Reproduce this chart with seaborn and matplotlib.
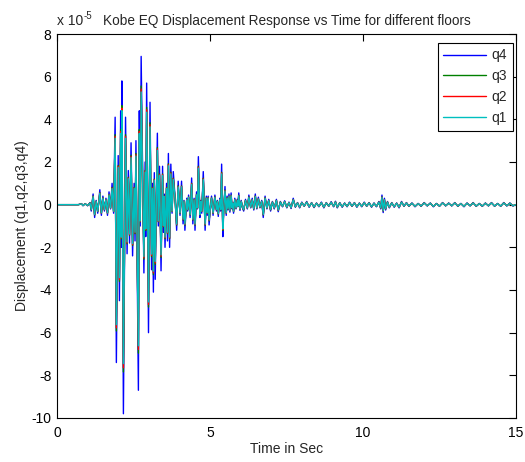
import numpy as np
import pandas as pd
import matplotlib
matplotlib.use("Agg")
import matplotlib.pyplot as plt
import seaborn as sns

# Roof (q4) displacement response, in units of 1e-5 m: turning points of the record
time_s = [
    0.00, 0.70, 0.80, 0.85, 0.92, 1.00, 1.08, 1.12, 1.18, 1.23, 1.28, 1.33, 1.40, 1.45,
    1.50, 1.55, 1.60, 1.65, 1.70, 1.75, 1.80, 1.85, 1.90, 1.94, 2.00, 2.04, 2.08, 2.10,
    2.12, 2.17, 2.24, 2.29, 2.33, 2.37, 2.42, 2.47, 2.52, 2.55, 2.58, 2.66, 2.69, 2.72,
    2.75, 2.84, 2.88, 2.90, 2.93, 2.99, 3.04, 3.09, 3.12, 3.15, 3.18, 3.21, 3.28, 3.31,
    3.35, 3.40, 3.45, 3.48, 3.50, 3.53, 3.58, 3.61, 3.64, 3.68, 3.72, 3.76, 3.80, 3.86,
    3.91, 3.96, 4.02, 4.07, 4.12, 4.15, 4.18, 4.24, 4.27, 4.30, 4.35, 4.40, 4.44, 4.48,
    4.51, 4.56, 4.59, 4.62, 4.67, 4.70, 4.73, 4.78, 4.84, 4.88, 4.91, 4.94, 4.97, 5.01,
    5.05, 5.10, 5.16, 5.21, 5.24, 5.27, 5.32, 5.35, 5.38, 5.42, 5.45, 5.49, 5.53, 5.56,
    5.59, 5.62, 5.65, 5.69, 5.72, 5.74, 5.77, 5.81, 5.85, 5.89, 5.91, 5.94, 5.98, 6.02,
    6.06, 6.10, 6.16, 6.22, 6.27, 6.33, 6.38, 6.43, 6.48, 6.53, 6.58, 6.63, 6.69, 6.74,
    6.80, 6.86, 6.92, 6.98, 7.04, 7.10, 7.17, 7.23, 7.30, 7.37, 7.44, 7.51, 7.58, 7.65,
    7.72, 7.79, 7.86, 7.93, 8.00, 8.08, 8.16, 8.24, 8.32, 8.40, 8.48, 8.56, 8.64, 8.72,
    8.80, 8.88, 8.96, 9.04, 9.10, 9.16, 9.24, 9.32, 9.40, 9.48, 9.56, 9.64, 9.72, 9.80,
    9.88, 9.96, 10.04, 10.12, 10.20, 10.28, 10.36, 10.44, 10.52, 10.58, 10.62, 10.66,
    10.70, 10.74, 10.80, 10.86, 10.94, 11.02, 11.10, 11.18, 11.26, 11.34, 11.42, 11.50,
    11.60, 11.70, 11.80, 11.90, 12.00, 12.10, 12.20, 12.30, 12.40, 12.50, 12.60, 12.70,
    12.80, 12.90, 13.00, 13.10, 13.20, 13.30, 13.40, 13.50, 13.60, 13.70, 13.80, 13.90,
    14.00, 14.10, 14.20, 14.30, 14.40, 14.50, 14.60, 14.70, 14.80, 14.90, 15.00,
]
q4 = [
    0.00, 0.00, 0.05, -0.05, 0.05, -0.05, 0.10, -0.30, 0.50, -0.60, 0.20, -0.40, 0.70, -0.50,
    0.40, -0.30, 0.30, -0.50, 0.60, -0.20, 1.00, -0.40, 4.10, -7.40, 2.30, -4.50, 4.40, -2.00,
    5.80, -9.80, 4.10, -2.30, 1.60, -1.80, 2.90, -2.40, 1.00, -1.70, 3.00, -8.70, 4.40, -1.00,
    6.95, -3.20, 2.00, -1.50, 5.70, -6.00, 4.80, -3.05, 1.00, -4.10, 1.50, -3.50, 3.35, -1.00,
    1.80, -3.10, 1.80, -1.30, 0.50, -2.00, 1.00, -1.70, 2.40, -2.00, 1.90, -0.40, 1.55, 0.30,
    -1.20, 1.10, -0.50, 1.10, -0.90, 0.20, -1.20, 0.30, -0.30, 0.45, -0.60, 1.25, -0.90, 0.30,
    -1.20, 0.60, -0.20, 2.25, -0.60, 0.20, -0.40, 1.55, -1.20, 0.40, -0.50, 0.40, -0.95, -0.20,
    0.40, -0.50, 0.45, -0.30, 0.20, -0.55, 0.30, -0.30, 1.90, -1.50, -0.20, 0.85, -0.50, 0.40,
    -0.25, 0.50, -0.35, 0.55, -0.20, 0.10, -0.40, 0.30, -0.20, 0.25, -0.10, 0.55, -0.27, 0.20,
    -0.15, -0.30, 0.25, -0.20, 0.45, -0.15, 0.30, -0.25, 0.50, -0.20, 0.35, -0.15, 0.20, -0.60,
    0.40, -0.20, 0.25, -0.30, 0.15, -0.20, 0.25, -0.33, 0.15, -0.10, 0.18, -0.15, 0.12, -0.18,
    0.30, -0.12, 0.10, -0.15, 0.12, -0.08, 0.15, -0.12, 0.10, -0.14, 0.08, -0.10, 0.12, -0.15,
    0.10, -0.08, 0.14, -0.10, 0.16, -0.15, 0.10, -0.12, 0.08, -0.10, 0.12, -0.08, 0.10, -0.12,
    0.08, -0.10, 0.12, -0.08, 0.10, -0.12, 0.08, -0.10, 0.15, -0.20, 0.45, -0.37,
    0.30, -0.25, 0.15, -0.15, 0.10, -0.12, 0.08, -0.15, 0.15, -0.08, 0.10, -0.08,
    0.08, -0.10, 0.06, -0.08, 0.10, -0.06, 0.08, -0.10, 0.06, -0.08, 0.10, -0.06,
    0.08, -0.06, 0.10, -0.08, 0.06, -0.10, 0.08, -0.06, 0.10, -0.08, 0.06, -0.08,
    0.08, -0.06, 0.10, -0.08, 0.06, -0.08, 0.10, -0.06, 0.08, -0.06, 0.00,
]

# Peak response of each floor relative to the roof (fundamental mode shape)
floors = ["q4", "q3", "q2", "q1"]
mode_shape = [1.00, 0.80, 0.78, 0.76]
colors = ["#0000ff", "#008000", "#ff0000", "#00bfbf"]

x_ticks = [0, 5, 10, 15]
y_ticks = [-10, -8, -6, -4, -2, 0, 2, 4, 6, 8]

t = np.asarray(time_s)
roof = np.asarray(q4)
frames = [pd.DataFrame({"time": t, "disp": roof * s, "floor": f})
          for f, s in zip(floors, mode_shape)]
df = pd.concat(frames, ignore_index=True)

sns.set_style("white")
plt.rcParams["font.family"] = ["Liberation Sans", "DejaVu Sans"]
plt.rcParams["axes.unicode_minus"] = False

fig = plt.figure(figsize=(5.25, 4.62), dpi=100)
ax = fig.add_axes([57 / 525, 1 - 418 / 462, 459 / 525, 384 / 462])

sns.lineplot(data=df, x="time", y="disp", hue="floor", hue_order=floors,
             palette=colors, estimator=None, sort=False, linewidth=1.0, ax=ax)

ax.set_xlim(0, 15)
ax.set_ylim(-10, 8)
ax.set_xticks(x_ticks)
ax.set_yticks(y_ticks)
ax.set_xticklabels([str(v) for v in x_ticks])
ax.set_yticklabels([str(v) for v in y_ticks])
ax.tick_params(direction="in", top=True, right=True, length=5, width=0.8,
               labelsize=10, colors="black", pad=4)
ax.tick_params(axis="x", pad=6)
for sp in ax.spines.values():
    sp.set_color("black")
    sp.set_linewidth(0.8)

ax.set_xlabel("Time in Sec", fontsize=10, labelpad=1)
ax.set_ylabel("Displacement (q1,q2,q3,q4)", fontsize=10, labelpad=2)
ax.set_title("Kobe EQ Displacement Response vs Time for different floors",
             fontsize=9.8, pad=6.5)

# y-axis exponent label
fig.text(57 / 525, 1 - 25 / 462, "x 10", fontsize=10, ha="left", va="baseline")
fig.text(84 / 525, 1 - 19 / 462, "-5", fontsize=7, ha="left", va="baseline")

leg = ax.legend(loc="upper right", bbox_to_anchor=(0.9935, 0.977), borderaxespad=0,
                fontsize=10, handlelength=3.1, handletextpad=0.4, labelspacing=0.5,
                fancybox=False, framealpha=1, edgecolor="black", title=None)
leg.get_frame().set_linewidth(0.8)

fig.savefig("out.png", dpi=100, facecolor="white")
